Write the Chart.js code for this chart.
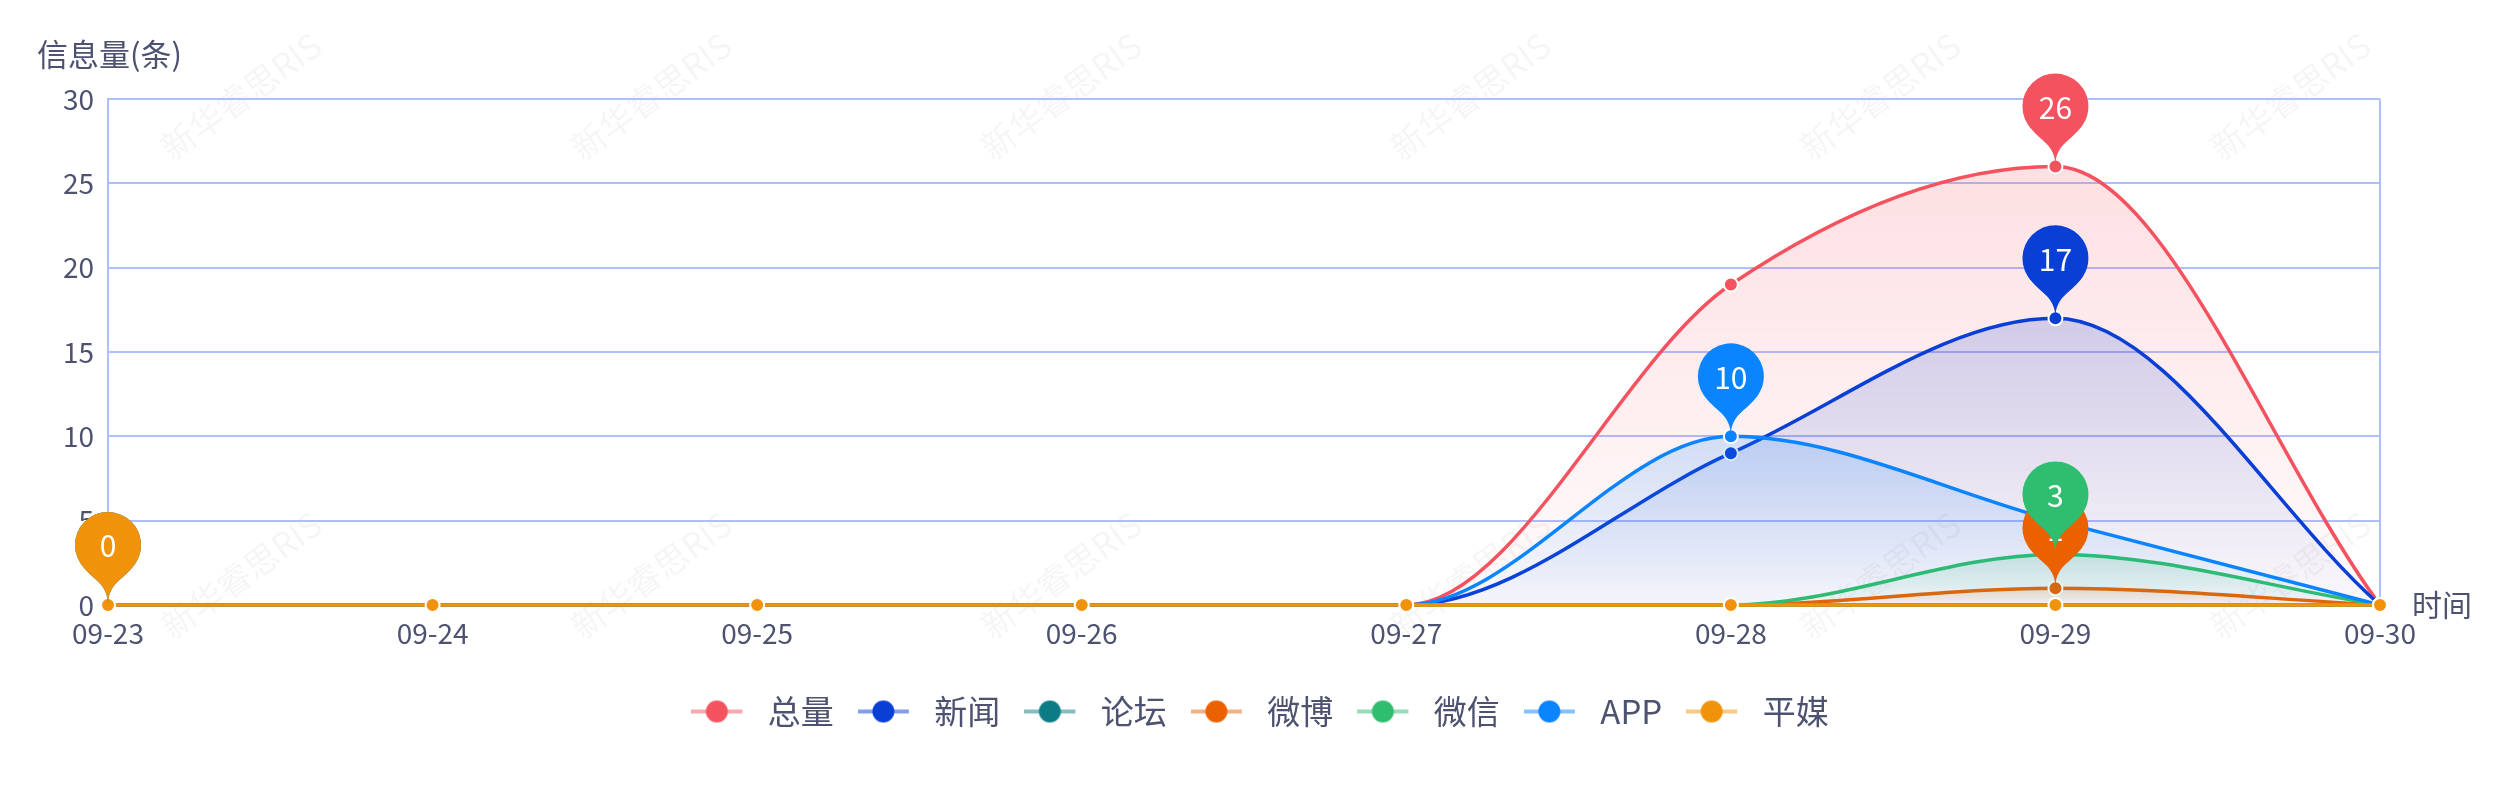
<!DOCTYPE html>
<html>
<head>
<meta charset="utf-8">
<script src="https://cdn.jsdelivr.net/npm/chart.js@4.4.1/dist/chart.umd.min.js"></script>
<style>
  html, body { margin: 0; padding: 0; background: #fff; }
  #wrap { width: 2520px; height: 800px; position: relative; }
</style>
</head>
<body>
<div id="wrap"><canvas id="chart"></canvas></div>
<script>
// 日期
const dates = ['09-23', '09-24', '09-25', '09-26', '09-27', '09-28', '09-29', '09-30'];

// 各渠道信息量
const total  = [0, 0, 0, 0, 0, 19, 26, 0];
const news   = [0, 0, 0, 0, 0, 9, 17, 0];
const forum  = [0, 0, 0, 0, 0, 0, 0, 0];
const weibo  = [0, 0, 0, 0, 0, 0, 1, 0];
const wechat = [0, 0, 0, 0, 0, 0, 3, 0];
const app    = [0, 0, 0, 0, 0, 10, 5, 0];
const press  = [0, 0, 0, 0, 0, 0, 0, 0];

const seriesNames = ['总量', '新闻', '论坛', '微博', '微信', 'APP', '平媒'];
const seriesData = [total, news, forum, weibo, wechat, app, press];
const colors = ['#f4525f', '#0a3fd6', '#0b7c84', '#eb6100', '#2fbd6f', '#0a84ff', '#f0930a'];

const yMax = 30;
const yStep = 5;

const FONT = '"Noto Sans CJK SC", "Noto Sans", sans-serif';
const textColor = '#4d5270';
const gridColor = '#adbfff';

function hexToRgba(hex, a) {
  const n = parseInt(hex.slice(1), 16);
  return `rgba(${(n >> 16) & 255}, ${(n >> 8) & 255}, ${n & 255}, ${a})`;
}

// 图例图标：横线 + 圆点
function legendIcon(color) {
  const c = document.createElement('canvas');
  c.width = 60;
  c.height = 32;
  const g = c.getContext('2d');
  g.strokeStyle = hexToRgba(color, 0.5);
  g.lineWidth = 4;
  g.beginPath();
  g.moveTo(0, 16);
  g.lineTo(51, 16);
  g.stroke();
  g.fillStyle = color;
  g.beginPath();
  g.arc(25.5, 16, 11, 0, Math.PI * 2);
  g.fill();
  return c;
}
const icons = colors.map(legendIcon);

// 区域渐变
function areaFill(i) {
  return (ctx) => {
    const chart = ctx.chart;
    const { chartArea, scales } = chart;
    if (!chartArea) return 'transparent';
    const max = Math.max(...seriesData[i]);
    if (max <= 0) return 'transparent';
    const top = scales.y.getPixelForValue(max);
    const g = chart.ctx.createLinearGradient(0, top, 0, chartArea.bottom);
    g.addColorStop(0, hexToRgba(colors[i], 0.18));
    g.addColorStop(1, hexToRgba(colors[i], 0.02));
    return g;
  };
}

// 标注气泡
function drawPin(ctx, x, y, color, text) {
  const r = 33, d = 60;
  const cy = y - d;
  const dy = r * r / d;
  const angle = Math.asin(dy / r);
  const dx = Math.cos(angle) * r;
  const tanX = Math.sin(angle), tanY = Math.cos(angle);
  const cp1 = r * 0.6, cp2 = r * 0.7;
  ctx.save();
  ctx.beginPath();
  ctx.moveTo(x - dx, cy + dy);
  ctx.arc(x, cy, r, Math.PI - angle, Math.PI * 2 + angle);
  ctx.bezierCurveTo(x + dx - tanX * cp1, cy + dy + tanY * cp1, x, y - cp2, x, y);
  ctx.bezierCurveTo(x, y - cp2, x - dx + tanX * cp1, cy + dy + tanY * cp1, x - dx, cy + dy);
  ctx.closePath();
  ctx.fillStyle = color;
  ctx.fill();
  ctx.fillStyle = '#fff';
  ctx.font = '30px ' + FONT;
  ctx.textAlign = 'center';
  ctx.textBaseline = 'middle';
  ctx.fillText(text, x, cy + 1);
  ctx.restore();
}

const pinPlugin = {
  id: 'pins',
  afterDatasetsDraw(chart) {
    const ctx = chart.ctx;
    seriesData.forEach((data, i) => {
      const max = Math.max(...data);
      const idx = data.indexOf(max);
      const pt = chart.getDatasetMeta(i).data[idx];
      drawPin(ctx, pt.x, pt.y, colors[i], String(max));
    });
  }
};

const labelPlugin = {
  id: 'axisNames',
  beforeDraw(chart) {
    const ctx = chart.ctx;
    ctx.save();
    // 水印
    ctx.fillStyle = 'rgba(0, 0, 0, 0.04)';
    ctx.font = '34px ' + FONT;
    ctx.textAlign = 'center';
    ctx.textBaseline = 'middle';
    [241, 651, 1061, 1470, 1880, 2290].forEach(wx => {
      [96, 575].forEach(wy => {
        ctx.save();
        ctx.translate(wx, wy);
        ctx.rotate(-Math.PI / 5);
        ctx.fillText('新华睿思RIS', 0, 0);
        ctx.restore();
      });
    });
    ctx.restore();
  },
  afterDraw(chart) {
    const ctx = chart.ctx;
    const { chartArea, scales } = chart;
    ctx.save();
    ctx.fillStyle = textColor;
    ctx.font = '31px ' + FONT;
    ctx.textBaseline = 'middle';
    ctx.textAlign = 'left';
    ctx.fillText('信息量(条)', 37, 54);
    ctx.font = '30px ' + FONT;
    ctx.fillText('时间', chartArea.right + 32, scales.y.getPixelForValue(0));
    ctx.restore();
  }
};

const datasets = seriesNames.map((name, i) => ({
  label: name,
  data: seriesData[i],
  borderColor: colors[i],
  backgroundColor: areaFill(i),
  fill: 'origin',
  borderWidth: 3.5,
  cubicInterpolationMode: 'monotone',
  clip: false,
  pointRadius: 7,
  pointBackgroundColor: colors[i],
  pointBorderColor: '#fff',
  pointBorderWidth: 2,
  order: seriesNames.length - 1 - i
}));

new Chart(document.getElementById('chart'), {
  type: 'line',
  data: { labels: dates, datasets },
  options: {
    responsive: true,
    maintainAspectRatio: false,
    devicePixelRatio: 1,
    animation: false,
    layout: { padding: { left: 0, right: 0, top: 99, bottom: 62 } },
    scales: {
      x: {
        offset: false,
        grid: {
          color: (c) => (c.index === dates.length - 1 ? gridColor : 'transparent'),
          lineWidth: 2,
          drawTicks: false
        },
        border: { display: false },
        ticks: { color: textColor, font: { family: FONT, size: 28 }, padding: 12, maxRotation: 0, autoSkip: false },
        afterFit(scale) { scale.height = 66; }
      },
      y: {
        min: 0,
        max: yMax,
        grid: { color: gridColor, lineWidth: 2, drawTicks: false },
        border: { display: true, color: gridColor, width: 2 },
        ticks: { stepSize: yStep, color: textColor, font: { family: FONT, size: 28 }, padding: 14 },
        afterFit(scale) { scale.width = 108; }
      },
      // 右侧留白，为“时间”腾出位置
      yRight: {
        position: 'right',
        min: 0,
        max: yMax,
        grid: { display: false },
        border: { display: false },
        ticks: { display: false },
        afterFit(scale) { scale.width = 140; }
      }
    },
    plugins: {
      tooltip: { enabled: false },
      legend: {
        position: 'bottom',
        labels: {
          usePointStyle: true,
          pointStyleWidth: 60,
          padding: 24,
          color: textColor,
          font: { family: FONT, size: 33 },
          sort: (a, b) => a.datasetIndex - b.datasetIndex,
          generateLabels: (chart) =>
            Chart.defaults.plugins.legend.labels.generateLabels(chart).map(l => ({ ...l, pointStyle: icons[l.datasetIndex] }))
        }
      }
    }
  },
  plugins: [pinPlugin, labelPlugin]
});
</script>
</body>
</html>
